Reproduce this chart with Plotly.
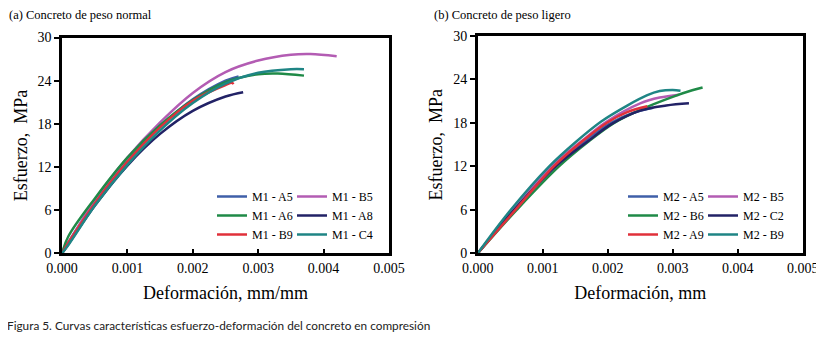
import plotly.graph_objects as go

# ---------------- data ----------------
# (a) normal-weight concrete
m1_names = ["M1 - A5", "M1 - B5", "M1 - A6", "M1 - A8", "M1 - B9", "M1 - C4"]
m1_a5_x = [0, 0.0001, 0.0005, 0.001, 0.0015, 0.002, 0.0025, 0.0027]
m1_a5_y = [0, 1.6, 7.0, 12.8, 17.6, 21.4, 24.0, 24.6]
m1_b5_x = [0, 0.0002, 0.0005, 0.001, 0.0015, 0.002, 0.0025, 0.003, 0.0035, 0.0038, 0.0042]
m1_b5_y = [0, 3.0, 7.4, 13.3, 18.2, 22.3, 25.2, 26.8, 27.6, 27.7, 27.4]
m1_a6_x = [0, 0.0001, 0.0005, 0.001, 0.0015, 0.002, 0.0025, 0.003, 0.0033, 0.0037]
m1_a6_y = [0, 2.4, 7.6, 13.3, 17.8, 21.3, 23.8, 24.9, 25.0, 24.7]
m1_a8_x = [0, 0.0001, 0.0005, 0.001, 0.0015, 0.002, 0.0025, 0.00277]
m1_a8_y = [0, 1.3, 6.6, 12.2, 16.6, 19.8, 21.8, 22.4]
m1_b9_x = [0, 0.0001, 0.0005, 0.001, 0.0015, 0.002, 0.0025, 0.0026, 0.00262]
m1_b9_y = [0, 1.5, 6.9, 12.7, 17.5, 21.2, 23.4, 23.7, 23.5]
m1_c4_x = [0, 0.0001, 0.0005, 0.001, 0.0015, 0.002, 0.0025, 0.003, 0.0035, 0.0037]
m1_c4_y = [0, 1.2, 6.6, 12.3, 17.1, 20.9, 23.6, 25.1, 25.6, 25.6]

# (b) lightweight concrete
m2_names = ["M2 - A5", "M2 - B5", "M2 - B6", "M2 - C2", "M2 - A9", "M2 - B9"]
m2_a5_x = [0, 0.00056, 0.00118, 0.0016, 0.00205, 0.0024, 0.0027]
m2_a5_y = [0, 6.0, 12.0, 15.2, 18.0, 19.4, 20.1]
m2_b5_x = [0, 0.00055, 0.00113, 0.0016, 0.00197, 0.0025, 0.0028, 0.0031]
m2_b5_y = [0, 6.0, 12.0, 15.5, 18.1, 20.7, 21.5, 21.9]
m2_b6_x = [0, 0.0006, 0.00125, 0.0017, 0.0021, 0.0025, 0.003, 0.0033, 0.00346]
m2_b6_y = [0, 6.0, 12.0, 15.4, 18.0, 19.8, 21.6, 22.5, 22.9]
m2_c2_x = [0, 0.00056, 0.0012, 0.0017, 0.00207, 0.0025, 0.0029, 0.00325]
m2_c2_y = [0, 6.0, 12.0, 15.5, 17.9, 19.7, 20.4, 20.7]
m2_a9_x = [0, 0.00058, 0.00117, 0.0016, 0.002, 0.0023, 0.00261]
m2_a9_y = [0, 6.0, 12.0, 15.4, 18.1, 19.5, 20.3]
m2_b9_x = [0, 0.0005, 0.0011, 0.0015, 0.0019, 0.0023, 0.0026, 0.0028, 0.0030, 0.00312]
m2_b9_y = [0, 5.9, 12.0, 15.3, 18.2, 20.4, 21.8, 22.4, 22.55, 22.45]

colors = ["#3F5FA8", "#B35CB3", "#1F8A47", "#222266", "#E0303A", "#1F8585"]

x_ticks = [0, 0.001, 0.002, 0.003, 0.004, 0.005]
x_tick_labels = ["0.000", "0.001", "0.002", "0.003", "0.004", "0.005"]
y_ticks = [0, 6, 12, 18, 24, 30]

m1_series = [(m1_a5_x, m1_a5_y), (m1_b5_x, m1_b5_y), (m1_a6_x, m1_a6_y),
             (m1_a8_x, m1_a8_y), (m1_b9_x, m1_b9_y), (m1_c4_x, m1_c4_y)]
m2_series = [(m2_a5_x, m2_a5_y), (m2_b5_x, m2_b5_y), (m2_b6_x, m2_b6_y),
             (m2_c2_x, m2_c2_y), (m2_a9_x, m2_a9_y), (m2_b9_x, m2_b9_y)]

SERIF = "Liberation Serif, Times New Roman, serif"

fig = go.Figure()

for i, (name, (xs, ys)) in enumerate(zip(m1_names, m1_series)):
    fig.add_trace(go.Scatter(x=xs, y=ys, mode="lines", name=name,
                             line=dict(color=colors[i], width=2.5, shape="spline", smoothing=1.0),
                             xaxis="x", yaxis="y",
                             legend="legend" if i % 2 == 0 else "legend2"))
for i, (name, (xs, ys)) in enumerate(zip(m2_names, m2_series)):
    fig.add_trace(go.Scatter(x=xs, y=ys, mode="lines", name=name,
                             line=dict(color=colors[i], width=2.5, shape="spline", smoothing=1.0),
                             xaxis="x2", yaxis="y2",
                             legend="legend3" if i % 2 == 0 else "legend4"))

# page has an 8px body margin: coordinates below are page pixels, converted.
OFF = 8
W, H = 816, 333

def px(xp):
    return (xp - OFF) / W

def py(yp):
    return (H - (yp - OFF)) / H

axis_common = dict(showgrid=False, zeroline=False, showline=True, mirror=True,
                   linecolor="black", linewidth=2.5, tickcolor="black", automargin=False,
                   ticklabeloverflow="allow",
                   tickfont=dict(family=SERIF, size=14, color="black"))

def xaxis(domain, title, anchor):
    return dict(axis_common, domain=domain, range=[0, 0.005], tickvals=x_ticks,
                ticktext=x_tick_labels, ticks="inside", ticklen=5, tickwidth=1.5,
                anchor=anchor,
                title=dict(text=title, font=dict(family=SERIF, size=18, color="black"),
                           standoff=12))

def yaxis(domain, anchor):
    return dict(axis_common, domain=domain, range=[0, 30], tickvals=y_ticks,
                ticks="outside", ticklen=5, tickwidth=1.5, anchor=anchor,
                title=dict(text="Esfuerzo,  MPa", font=dict(family=SERIF, size=18, color="black"),
                           standoff=6))

legend_font = dict(family=SERIF, size=12, color="black")
def leg(x, y):
    return dict(x=x, y=y, xanchor="left", yanchor="top", bgcolor="rgba(0,0,0,0)",
                font=legend_font, tracegroupgap=0, itemwidth=30,
                orientation="v")

LT = py(182)
fig.update_layout(
    width=W, height=H,
    margin=dict(l=0, r=0, t=0, b=0),
    paper_bgcolor="white", plot_bgcolor="white",
    xaxis=xaxis([px(62), px(389)], "Deformación, mm/mm", "y"),
    yaxis=yaxis([py(253.3), py(37.5)], "x"),
    xaxis2=xaxis([px(477.7), px(802.7)], "Deformación, mm", "y2"),
    yaxis2=yaxis([py(253.3), py(36.0)], "x2"),
    legend=leg(px(212), LT),
    legend2=leg(px(292), LT),
    legend3=leg(px(623), LT),
    legend4=leg(px(703), LT),
    annotations=[
        dict(text="(a) Concreto de peso normal", x=px(7), y=py(6), xref="paper", yref="paper",
             xanchor="left", yanchor="top", showarrow=False,
             font=dict(family=SERIF, size=12.5, color="black")),
        dict(text="(b) Concreto de peso ligero", x=px(432), y=py(6), xref="paper", yref="paper",
             xanchor="left", yanchor="top", showarrow=False,
             font=dict(family=SERIF, size=12.5, color="black")),
        dict(text="Figura 5. Curvas características esfuerzo-deformación del concreto en compresión",
             x=px(5), y=py(316), xref="paper", yref="paper",
             xanchor="left", yanchor="top", showarrow=False,
             font=dict(family="Lato", size=11.8, color="#222222")),
    ],
)

fig.write_html("out.html")
